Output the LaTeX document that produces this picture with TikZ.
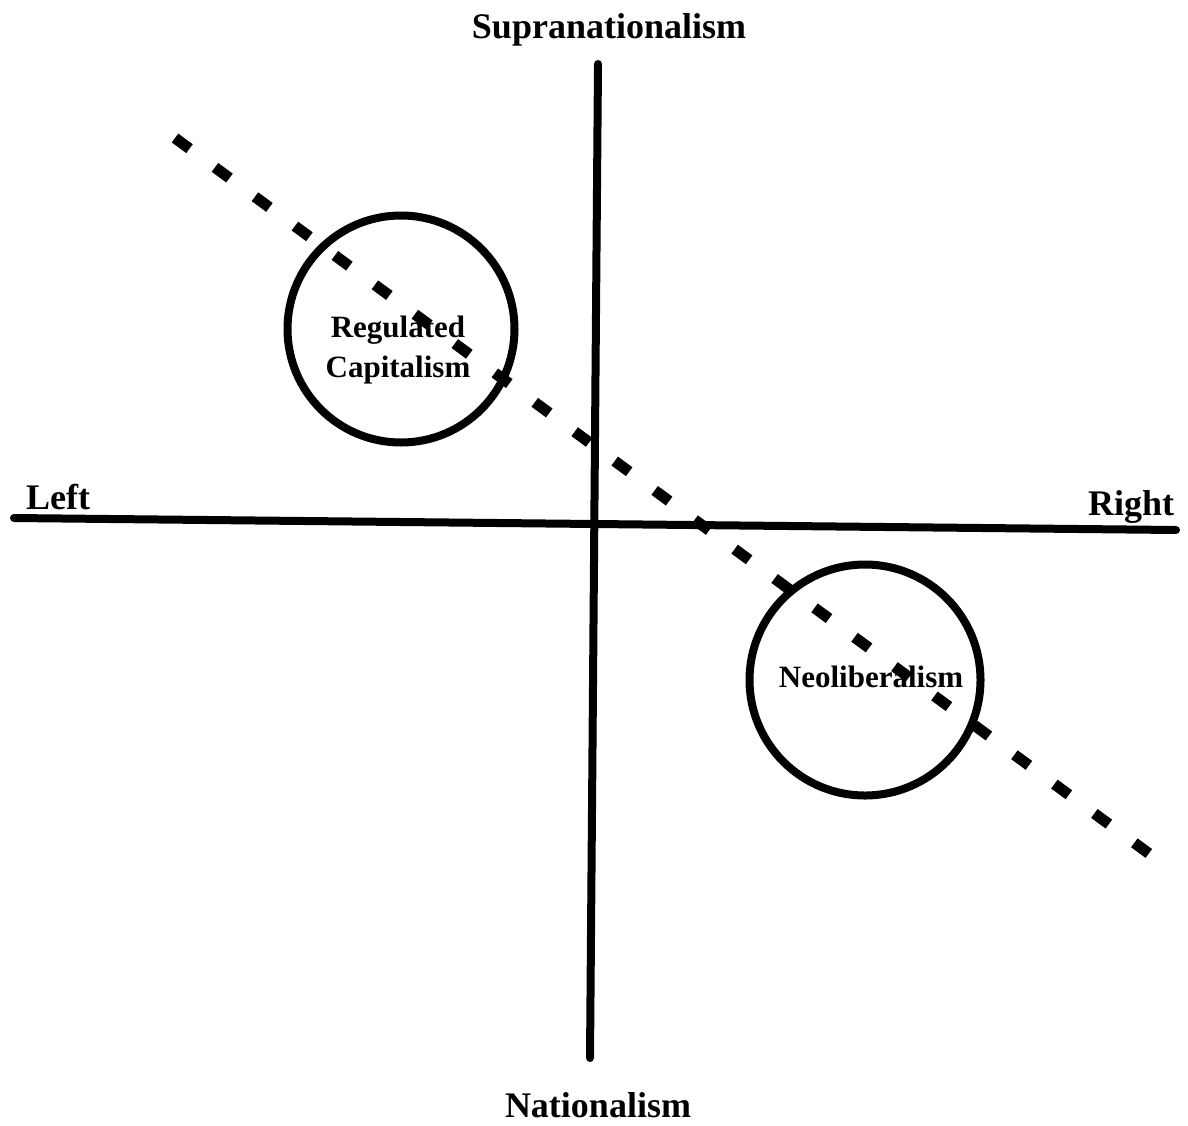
\documentclass[tikz,border=0pt]{standalone}
\usepackage{fontspec}
\setmainfont{Liberation Serif}
\begin{document}
\begin{tikzpicture}[x=0.5pt,y=-0.5pt,
  axis/.style={line width=4pt,line cap=round},
  ring/.style={circle,draw,line width=4pt,inner sep=0pt},
  axislabel/.style={font=\bfseries\fontsize{18}{20}\selectfont},
  innerlabel/.style={font=\bfseries\fontsize{15.5}{20}\selectfont,align=center},
  trend/.style={line width=5.5pt,dash pattern=on 9pt off 15.8pt}]
\useasboundingbox (0,0) rectangle (1188,1125);
% axes
\coordinate (top) at (598,64);
\coordinate (bottom) at (590,1058);
\coordinate (left) at (14,518);
\coordinate (right) at (1176,530);
\draw[axis] (top) -- (bottom);
\draw[axis] (left) -- (right);
% trend line
\coordinate (ts) at (175,138);
\coordinate (te) at (1155,858);
\draw[trend] (ts) -- (te);
% circles
\node[ring,minimum size=113.5pt] (rc) at (401,329) {};
\node[ring,minimum size=115.5pt] (nl) at (865,680) {};
% labels
\node[axislabel] (sup) at (609,30) {Supranationalism};
\node[axislabel] (nat) at (598,1105) {Nationalism};
\node[axislabel] (lft) at (58,497) {Left};
\node[axislabel] (rgt) at (1131,507) {Right};
\node[innerlabel] (rct) at (398,350) {Regulated\\Capitalism};
\node[innerlabel] (nlt) at (871,677) {Neoliberalism};
\end{tikzpicture}
\end{document}
